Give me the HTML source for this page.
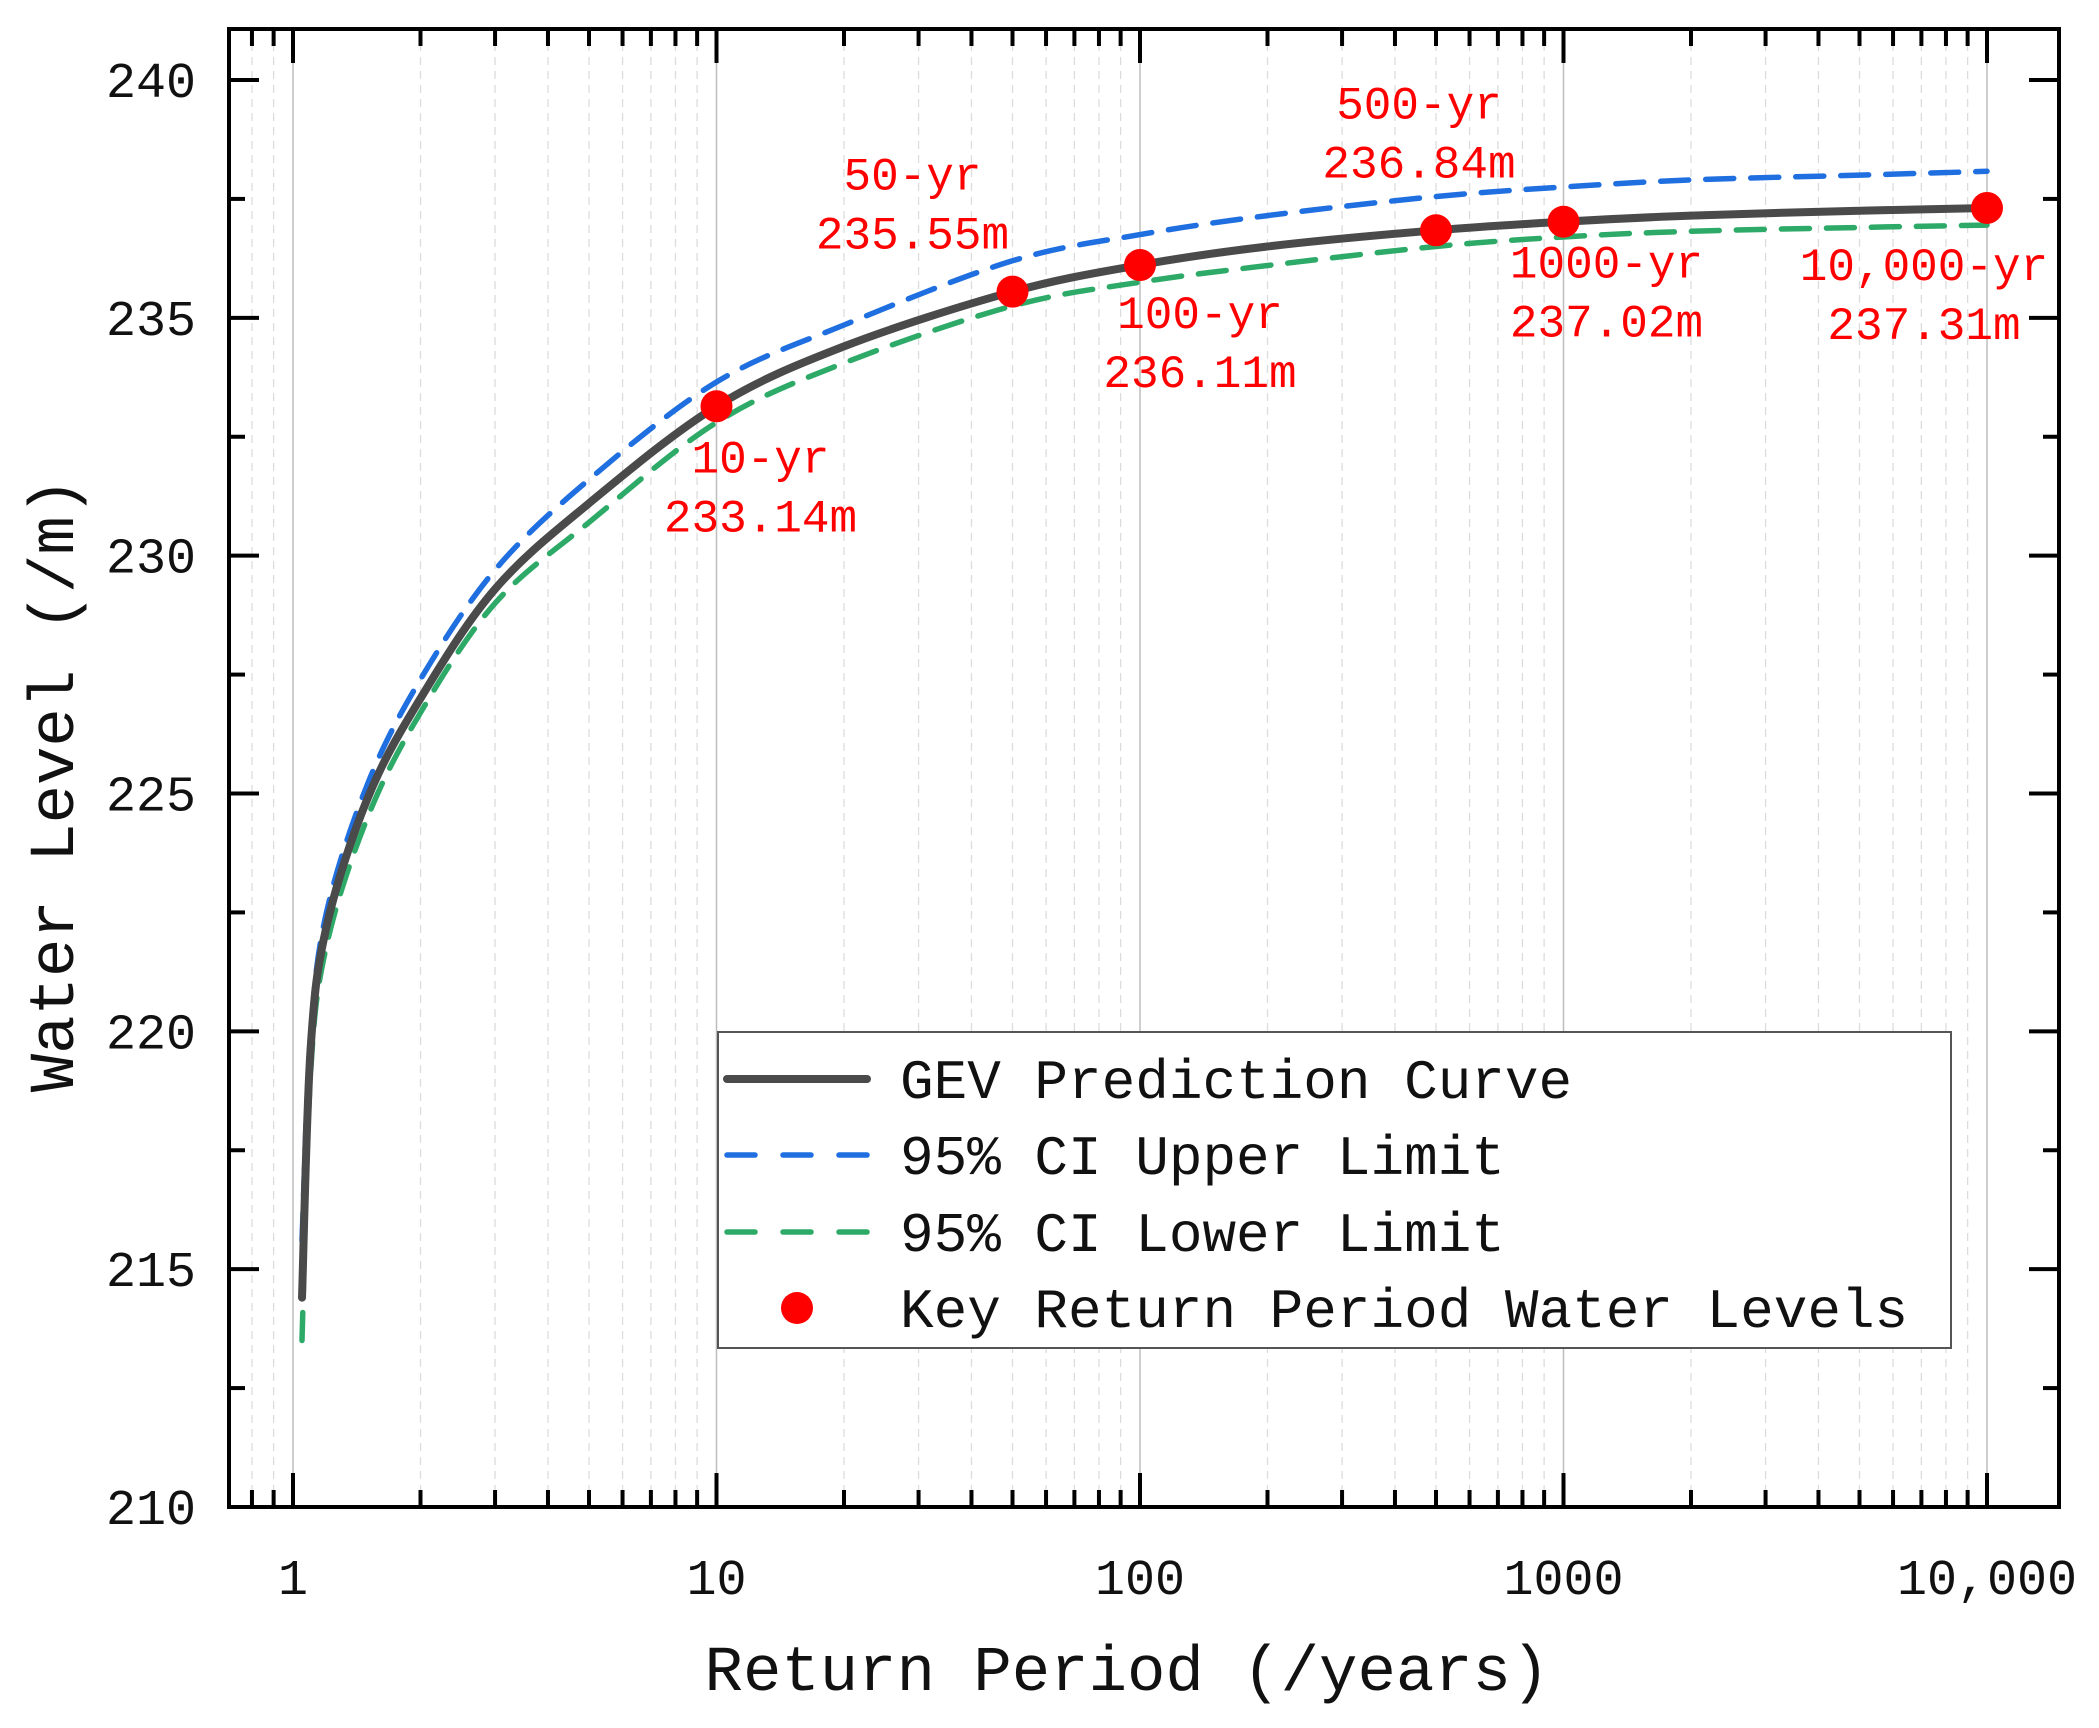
<!DOCTYPE html>
<html><head><meta charset="utf-8"><style>
html,body{margin:0;padding:0;background:#fff;}
svg{display:block;}
text{font-family:"Liberation Mono","Noto Serif CJK SC",monospace;}
</style></head><body>
<svg id="chart" width="2099" height="1728" viewBox="0 0 2099 1728"></svg>
<script>
const periods = [1.05, 1.1, 1.2, 1.5, 2, 3, 5, 10, 20, 50, 100, 200, 500, 1000, 2000, 5000, 10000];
const gevLevels = [214.4, 219.6, 222.2, 224.9, 227.0, 229.3, 231.1, 233.14, 234.4, 235.55, 236.11, 236.5, 236.84, 237.02, 237.15, 237.25, 237.31];
const upperLevels = [215.6, 219.9, 222.5, 225.2, 227.4, 229.7, 231.6, 233.65, 234.85, 236.2, 236.75, 237.15, 237.55, 237.75, 237.9, 238.0, 238.08];
const lowerLevels = [213.5, 219.1, 221.8, 224.5, 226.7, 229.0, 230.7, 232.8, 234.05, 235.25, 235.75, 236.1, 236.5, 236.7, 236.82, 236.9, 236.95];
const keyPeriods = [10, 50, 100, 500, 1000, 10000];
const keyLevels = [233.14, 235.55, 236.11, 236.84, 237.02, 237.31];
const keyNames = ["10-yr", "50-yr", "100-yr", "500-yr", "1000-yr", "10,000-yr"];
const keyValueLabels = ["233.14m", "235.55m", "236.11m", "236.84m", "237.02m", "237.31m"];
const xTickValues = [1, 10, 100, 1000, 10000];
const xTickLabels = ["1", "10", "100", "1000", "10,000"];
const yTickValues = [210, 215, 220, 225, 230, 235, 240];

const NS = "http://www.w3.org/2000/svg";
const svg = document.getElementById("chart");
const L = 229, R = 2059, T = 29, B = 1507;
const X = v => 293 + (Math.log10(v)) * 423.5;
const Y = v => 1507 - (v - 210) * (1427 / 30);
function mk(tag, attrs, parent) {
  const e = document.createElementNS(NS, tag);
  for (const k in attrs) e.setAttribute(k, attrs[k]);
  (parent || svg).appendChild(e);
  return e;
}
// label offsets (pixel layout, not data)
const labelDx = [44, -100, 60, -17, 43, -63];
const labelDy = [50, -118, 47, -128, 40, 56];

// grid
const grid = mk("g", {});


for (let d = -1; d <= 4; d++) {
  for (let m = 1; m <= 9; m++) {
    const v = m * Math.pow(10, d);
    const x = X(v);
    if (x <= L + 1 || x >= R - 1) continue;
    if (m === 1) {
      mk("line", {x1: x, x2: x, y1: T, y2: B, stroke: "#bdbdbd", "stroke-width": 1.5}, grid);
    } else {
      mk("line", {x1: x, x2: x, y1: T, y2: B, stroke: "#dcdcdc", "stroke-width": 1.3, "stroke-dasharray": "8 6"}, grid);
    }
  }
}
// ticks
const ticks = mk("g", {stroke: "#000", "stroke-width": 4});


for (let d = -1; d <= 4; d++) {
  for (let m = 1; m <= 9; m++) {
    const v = m * Math.pow(10, d);
    const x = X(v);
    if (x <= L + 1 || x >= R - 1) continue;
    const len = m === 1 ? 34 : 17;
    mk("line", {x1: x, x2: x, y1: B, y2: B - len}, ticks);
    mk("line", {x1: x, x2: x, y1: T, y2: T + len}, ticks);
  }
}
for (let v = 210; v <= 240; v += 2.5) {
  const y = Y(v);
  const len = (v % 5 === 0) ? 30 : 16;
  mk("line", {x1: L, x2: L + len, y1: y, y2: y}, ticks);
  mk("line", {x1: R, x2: R - len, y1: y, y2: y}, ticks);
}
// tick labels
xTickValues.forEach((v, i) => {
  const t = mk("text", {x: X(v), y: 1594, "text-anchor": "middle", "font-size": 50, fill: "#111"});
  
  
  t.textContent = xTickLabels[i];
});
yTickValues.forEach(v => {
  const t = mk("text", {x: 196, y: Y(v) + 17, "text-anchor": "end", "font-size": 50, fill: "#111"});
  
  
  t.textContent = String(v);
});
// axis titles
const xt = mk("text", {x: 1127, y: 1690, "text-anchor": "middle", "font-size": 64, fill: "#111"});


xt.textContent = "Return Period (/years)";
const yt = mk("text", {x: 0, y: 0, "text-anchor": "middle", "font-size": 64, fill: "#111", transform: "translate(73,785) rotate(-90)"});


yt.textContent = "Water Level (/m)";

function path(arr) {
  const pts = periods.map((p, i) => [X(p), Y(arr[i])]);
  let d = "M" + pts[0][0].toFixed(1) + " " + pts[0][1].toFixed(1);
  for (let i = 0; i < pts.length - 1; i++) {
    const p0 = pts[Math.max(0, i - 1)], p1 = pts[i], p2 = pts[i + 1], p3 = pts[Math.min(pts.length - 1, i + 2)];
    const c1 = [p1[0] + (p2[0] - p0[0]) / 6, p1[1] + (p2[1] - p0[1]) / 6];
    const c2 = [p2[0] - (p3[0] - p1[0]) / 6, p2[1] - (p3[1] - p1[1]) / 6];
    d += " C" + c1[0].toFixed(1) + " " + c1[1].toFixed(1) + " " + c2[0].toFixed(1) + " " + c2[1].toFixed(1) + " " + p2[0].toFixed(1) + " " + p2[1].toFixed(1);
  }
  return d;
}
const up = mk("path", {d: path(upperLevels), fill: "none", stroke: "#1f6fe0", "stroke-width": 5.5, "stroke-dasharray": "28 17", "stroke-linecap": "round"});


const lo = mk("path", {d: path(lowerLevels), fill: "none", stroke: "#2eaa68", "stroke-width": 5.5, "stroke-dasharray": "28 17", "stroke-linecap": "round"});


const gev = mk("path", {d: path(gevLevels), fill: "none", stroke: "#4a4a4a", "stroke-width": 8, "stroke-linecap": "round", "stroke-linejoin": "round"});



keyPeriods.forEach((p, i) => {
  const c = mk("circle", {cx: X(p), cy: Y(keyLevels[i]), r: 16, fill: "#f00"});
  
  
  const cx = X(p) + labelDx[i], cy = Y(keyLevels[i]) + labelDy[i];
  const t1 = mk("text", {x: cx, y: cy + 16, "text-anchor": "middle", "font-size": 46, fill: "#f00"});
  
  
  t1.textContent = keyNames[i];
  const t2 = mk("text", {x: cx, y: cy + 75, "text-anchor": "middle", "font-size": 46, fill: "#f00"});
  
  
  t2.textContent = keyValueLabels[i];
});

// frame
const fr = mk("rect", {x: L, y: T, width: R - L, height: B - T, fill: "none", stroke: "#000", "stroke-width": 4});



// legend
const lg = mk("g", {});


mk("rect", {x: 718, y: 1032, width: 1233, height: 316, fill: "#fff", stroke: "#555", "stroke-width": 2}, lg);
const rows = [1079, 1155, 1232, 1308];
const names = ["GEV Prediction Curve", "95% CI Upper Limit", "95% CI Lower Limit", "Key Return Period Water Levels"];
let e;
e = mk("line", {x1: 727, x2: 867, y1: rows[0], y2: rows[0], stroke: "#4a4a4a", "stroke-width": 8, "stroke-linecap": "round"}, lg);


e = mk("line", {x1: 727, x2: 867, y1: rows[1], y2: rows[1], stroke: "#1f6fe0", "stroke-width": 5.5, "stroke-dasharray": "28 28", "stroke-linecap": "round"}, lg);


e = mk("line", {x1: 727, x2: 867, y1: rows[2], y2: rows[2], stroke: "#2eaa68", "stroke-width": 5.5, "stroke-dasharray": "28 28", "stroke-linecap": "round"}, lg);


e = mk("circle", {cx: 797, cy: rows[3], r: 16, fill: "#f00"}, lg);


names.forEach((n, i) => {
  const t = mk("text", {x: 900, y: rows[i] + 19, "font-size": 56, fill: "#111"}, lg);
  
  
  t.textContent = n;
});
</script>
</body></html>
